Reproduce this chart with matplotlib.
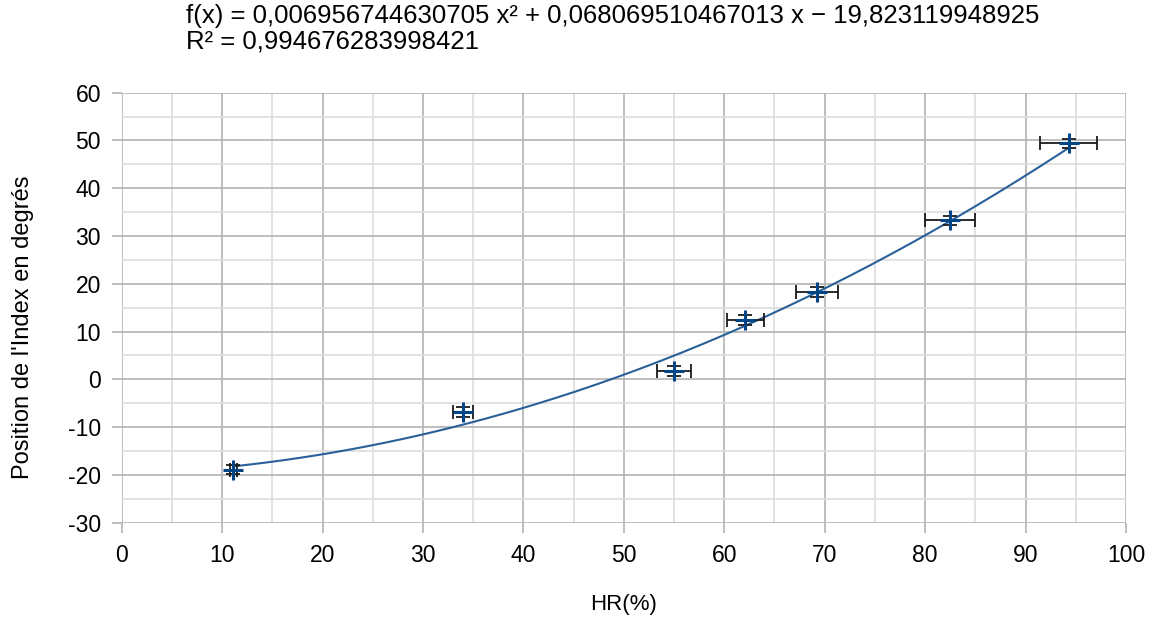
import numpy as np
import matplotlib.pyplot as plt
from matplotlib.ticker import MultipleLocator

# humidity (%) and index position (degrees)
hr = [11.1, 34.0, 55.0, 62.1, 69.2, 82.5, 94.3]
position = [-18.9, -6.8, 1.8, 12.4, 18.3, 33.3, 49.4]
hr_err = [0.33, 1.02, 1.65, 1.86, 2.08, 2.47, 2.83]
pos_err = [1.0, 1.0, 1.0, 1.0, 1.0, 1.0, 1.0]

# polynomial trend line (degree 2) as shown on the chart
coefs = [0.006956744630705, 0.068069510467013, -19.823119948925]
eq_text = "f(x) = 0,006956744630705 x² + 0,068069510467013 x \u2212 19,823119948925"
r2_text = "R² = 0,994676283998421"

plt.rcParams['font.family'] = ['Liberation Sans', 'DejaVu Sans']
plt.rcParams['axes.unicode_minus'] = False

fig = plt.figure(figsize=(11.56, 6.19), dpi=100)
ax = fig.add_axes([0.1053, 0.1556, 0.974 - 0.1053, 0.8502 - 0.1556])

xs = np.linspace(min(hr), max(hr), 200)
ax.plot(xs, np.polyval(coefs, xs), color='#2a6099', lw=1.5, zorder=3)

ax.errorbar(hr, position, xerr=hr_err, yerr=pos_err, fmt='none',
            ecolor='#1a1a1a', elinewidth=1.3, capsize=5, capthick=1.3, zorder=4)
ax.plot(hr, position, ls='none', marker='+', ms=15, mew=2.2,
        color='#004586', zorder=5)

ax.set_xlim(0, 100)
ax.set_ylim(-30, 60)
ax.xaxis.set_major_locator(MultipleLocator(10))
ax.yaxis.set_major_locator(MultipleLocator(10))
ax.xaxis.set_minor_locator(MultipleLocator(5))
ax.yaxis.set_minor_locator(MultipleLocator(5))
ax.grid(True, which='major', color='#b3b3b3', lw=1.2, zorder=0)
ax.grid(True, which='minor', color='#dddddd', lw=1.2, zorder=0)
ax.set_axisbelow(True)
for s in ax.spines.values():
    s.set_visible(False)
ax.tick_params(which='major', length=7, width=1.2, color='#b3b3b3',
               labelsize=16.5, pad=8)
ax.tick_params(which='minor', length=0)

ax.set_xlabel('HR(%)', fontsize=16, labelpad=20)
ax.set_ylabel("Position de l'Index en degrés", fontsize=17)
ax.yaxis.set_label_coords(-0.087, 0.455)

fig.text(186 / 1156, 1 - 4 / 619, eq_text, fontsize=18.5, va='top', ha='left')
fig.text(186 / 1156, 1 - 30 / 619, r2_text, fontsize=18.5, va='top', ha='left')

fig.savefig('out.png', dpi=100)
